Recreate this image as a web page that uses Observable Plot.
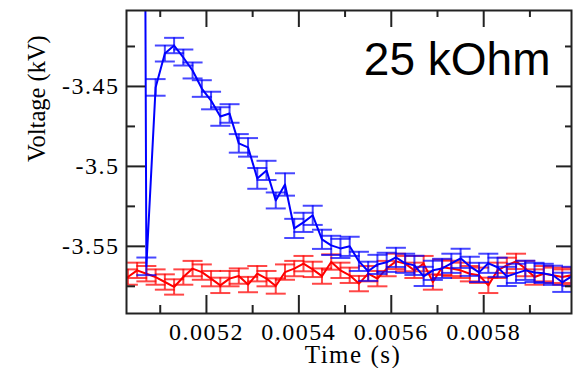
<!DOCTYPE html>
<html><head><meta charset="utf-8">
<script src="https://cdn.jsdelivr.net/npm/d3@7"></script>
<script src="https://cdn.jsdelivr.net/npm/@observablehq/plot@0.6"></script>
<style>
body{margin:0;background:#fff;}
</style>
</head><body><div id="chart"></div>
<script>
// time (s)
const times = [0.00503, 0.00505, 0.00507, 0.00509, 0.00511, 0.00513, 0.00515, 0.00517, 0.00519, 0.00521,
  0.00523, 0.00525, 0.00527, 0.00529, 0.00531, 0.00533, 0.00535, 0.00537, 0.00539, 0.00541,
  0.00543, 0.00545, 0.00547, 0.00549, 0.00551, 0.00553, 0.00555, 0.00557, 0.00559, 0.00561,
  0.00563, 0.00565, 0.00567, 0.00569, 0.00571, 0.00573, 0.00575, 0.00577, 0.00579, 0.00581,
  0.00583, 0.00585, 0.00587, 0.00589, 0.00591, 0.00593, 0.00595, 0.00597, 0.00599];
// red series (kV)
const redV = [-3.5692, -3.565, -3.5671, -3.5692, -3.5723, -3.5754, -3.5692, -3.5639, -3.5661, -3.5702,
  -3.5744, -3.5702, -3.5686, -3.5739, -3.5671, -3.5702, -3.5748, -3.5661, -3.5639, -3.5608,
  -3.5644, -3.5686, -3.5598, -3.565, -3.5681, -3.5733, -3.5671, -3.5702, -3.5639, -3.5594,
  -3.5608, -3.565, -3.5608, -3.5723, -3.5631, -3.5638, -3.565, -3.5671, -3.5681, -3.5744,
  -3.565, -3.5619, -3.5594, -3.5639, -3.5692, -3.5671, -3.5681, -3.5692, -3.5681];
const redErr = [0.0048, 0.0048, 0.0048, 0.0048, 0.0048, 0.0048, 0.0048, 0.0048, 0.0048, 0.0048,
  0.0048, 0.0048, 0.0048, 0.0048, 0.0048, 0.0048, 0.0048, 0.0048, 0.0048, 0.0048,
  0.0048, 0.0048, 0.0048, 0.0048, 0.0048, 0.0048, 0.0048, 0.0048, 0.0048, 0.0048,
  0.0048, 0.0048, 0.0048, 0.0048, 0.0048, 0.0048, 0.0048, 0.0048, 0.0048, 0.0048,
  0.0048, 0.0048, 0.0048, 0.0048, 0.0048, 0.0048, 0.0048, 0.0048, 0.0048];
// blue series (kV)
const blueV = [null, -2.0, -3.5625, -3.4506, -3.4294, -3.4244, -3.4319, -3.44, -3.4513, -3.4588,
  -3.4688, -3.4669, -3.4856, -3.4881, -3.5075, -3.5025, -3.5213, -3.5113, -3.5388, -3.535,
  -3.5306, -3.5456, -3.5494, -3.5513, -3.55, -3.5594, -3.5656, -3.5613, -3.56, -3.5569,
  -3.5606, -3.5619, -3.5688, -3.565, -3.5638, -3.5606, -3.5575, -3.5625, -3.5663, -3.5606,
  -3.5631, -3.5688, -3.5669, -3.565, -3.5663, -3.5669, -3.5681, -3.5725, -3.5688];
const blueErr = [null, 0.006, 0.0055, 0.0052, 0.005, 0.0048, 0.005, 0.005, 0.0052, 0.0055,
  0.0058, 0.0058, 0.0058, 0.0058, 0.0065, 0.006, 0.005, 0.007, 0.006, 0.006,
  0.006, 0.006, 0.006, 0.006, 0.006, 0.006, 0.006, 0.006, 0.006, 0.006,
  0.006, 0.006, 0.006, 0.006, 0.006, 0.006, 0.006, 0.006, 0.006, 0.006,
  0.006, 0.006, 0.006, 0.006, 0.006, 0.006, 0.006, 0.006, 0.006];

const xTicks = [0.0052, 0.0054, 0.0056, 0.0058];
const xTickLabels = ["0.0052", "0.0054", "0.0056", "0.0058"];
const xMinor = [0.0051, 0.0053, 0.0055, 0.0057, 0.0059];
const yTicks = [-3.45, -3.5, -3.55];
const yTickLabels = ["-3.45", "-3.5", "-3.55"];
const yMinor = [-3.425, -3.475, -3.525, -3.575];
const xLabel = "Time (s)";
const yLabel = "Voltage (kV)";
const note = "25 kOhm";

const rows = times.map((t, i) => ({t, red: redV[i], redE: redErr[i], blue: blueV[i], blueE: blueErr[i]}));
const blueRows = rows.filter(d => d.blue != null);

const W = 581, H = 368, mL = 126, mR = 10, mT = 10, mB = 55;
const pw = W - mL - mR, ph = H - mT - mB;
const serif = "Liberation Serif";

const cap = {draw(ctx, size) { const w = Math.sqrt(size / Math.PI); ctx.moveTo(-w, 0); ctx.lineTo(w, 0); }};

function series(data, key, ekey, color) {
  const common = {stroke: color, strokeWidth: 2, strokeOpacity: 0.72, clip: true};
  return [
    Plot.ruleX(data, {x: "t", y1: d => d[key] - d[ekey], y2: d => d[key] + d[ekey], ...common}),
    Plot.dot(data, {x: "t", y: d => d[key] + d[ekey], symbol: cap, r: 10, fill: "none", ...common}),
    Plot.dot(data, {x: "t", y: d => d[key] - d[ekey], symbol: cap, r: 10, fill: "none", ...common}),
    Plot.line(data, {x: "t", y: key, stroke: color, strokeWidth: 2, clip: true})
  ];
}

const tickStyle = {stroke: "#222", strokeWidth: 2};

const chart = Plot.plot({
  width: W, height: H,
  marginLeft: mL, marginRight: mR, marginTop: mT, marginBottom: mB,
  style: {background: "white", fontFamily: serif, fontSize: "24px", color: "black"},
  x: {domain: [0.005027, 0.00599], axis: null},
  y: {domain: [-3.592, -3.4025], axis: null},
  marks: [
    ...series(rows, "red", "redE", "#ff0000"),
    ...series(blueRows, "blue", "blueE", "#0000ff"),
    // inward ticks
    Plot.tickX(xTicks, {x: d => d, insetTop: ph - 18, ...tickStyle}),
    Plot.tickX(xMinor, {x: d => d, insetTop: ph - 8, ...tickStyle}),
    Plot.tickX(xTicks, {x: d => d, insetBottom: ph - 17, ...tickStyle}),
    Plot.tickX(xMinor, {x: d => d, insetBottom: ph - 7, ...tickStyle}),
    Plot.tickY(yTicks, {y: d => d, insetRight: pw - 19, ...tickStyle}),
    Plot.tickY(yMinor, {y: d => d, insetRight: pw - 9, ...tickStyle}),
    Plot.tickY(yTicks, {y: d => d, insetLeft: pw - 15, ...tickStyle}),
    Plot.tickY(yMinor, {y: d => d, insetLeft: pw - 6, ...tickStyle}),
    Plot.frame({stroke: "#222", strokeWidth: 2}),
    Plot.axisX(xTicks, {tickSize: 0, tickPadding: 9, tickFormat: d => xTickLabels[xTicks.indexOf(d)], label: null, fontSize: 24, fill: "black", ariaLabel: "xticklabels"}),
    Plot.axisY(yTicks, {tickSize: 0, tickPadding: 7, tickFormat: d => yTickLabels[yTicks.indexOf(d)], label: null, fontSize: 24, fill: "black", ariaLabel: "yticklabels"}),
    Plot.text([xLabel], {frameAnchor: "bottom", dy: 49, dx: 4, lineAnchor: "bottom", fontSize: 25, fill: "black", ariaLabel: "xlabel"}),
    Plot.text([yLabel], {frameAnchor: "left", rotate: -90, dx: -82, lineAnchor: "bottom", fontSize: 24.5, fill: "black", ariaLabel: "ylabel"}),
    Plot.text([note], {frameAnchor: "top-right", dx: -21, dy: 50, textAnchor: "end", lineAnchor: "middle", fontSize: 46, fill: "black", ariaLabel: "note"})
  ]
});
// force fonts with inline styles
const svgSel = d3.select(chart);
svgSel.selectAll("text").each(function() {
  const el = d3.select(this);
  const s = this.textContent;
  if (s === note) {
    el.style("font-family", '"Liberation Sans", Arial, sans-serif');
  } else {
    el.style("font-family", '"Liberation Serif", "Times New Roman", serif');
    el.style("font-variant-numeric", "normal");
    if (s !== yLabel) el.style("letter-spacing", "1.5px");
  }
});
document.getElementById("chart").appendChild(chart);
</script>
</body></html>
